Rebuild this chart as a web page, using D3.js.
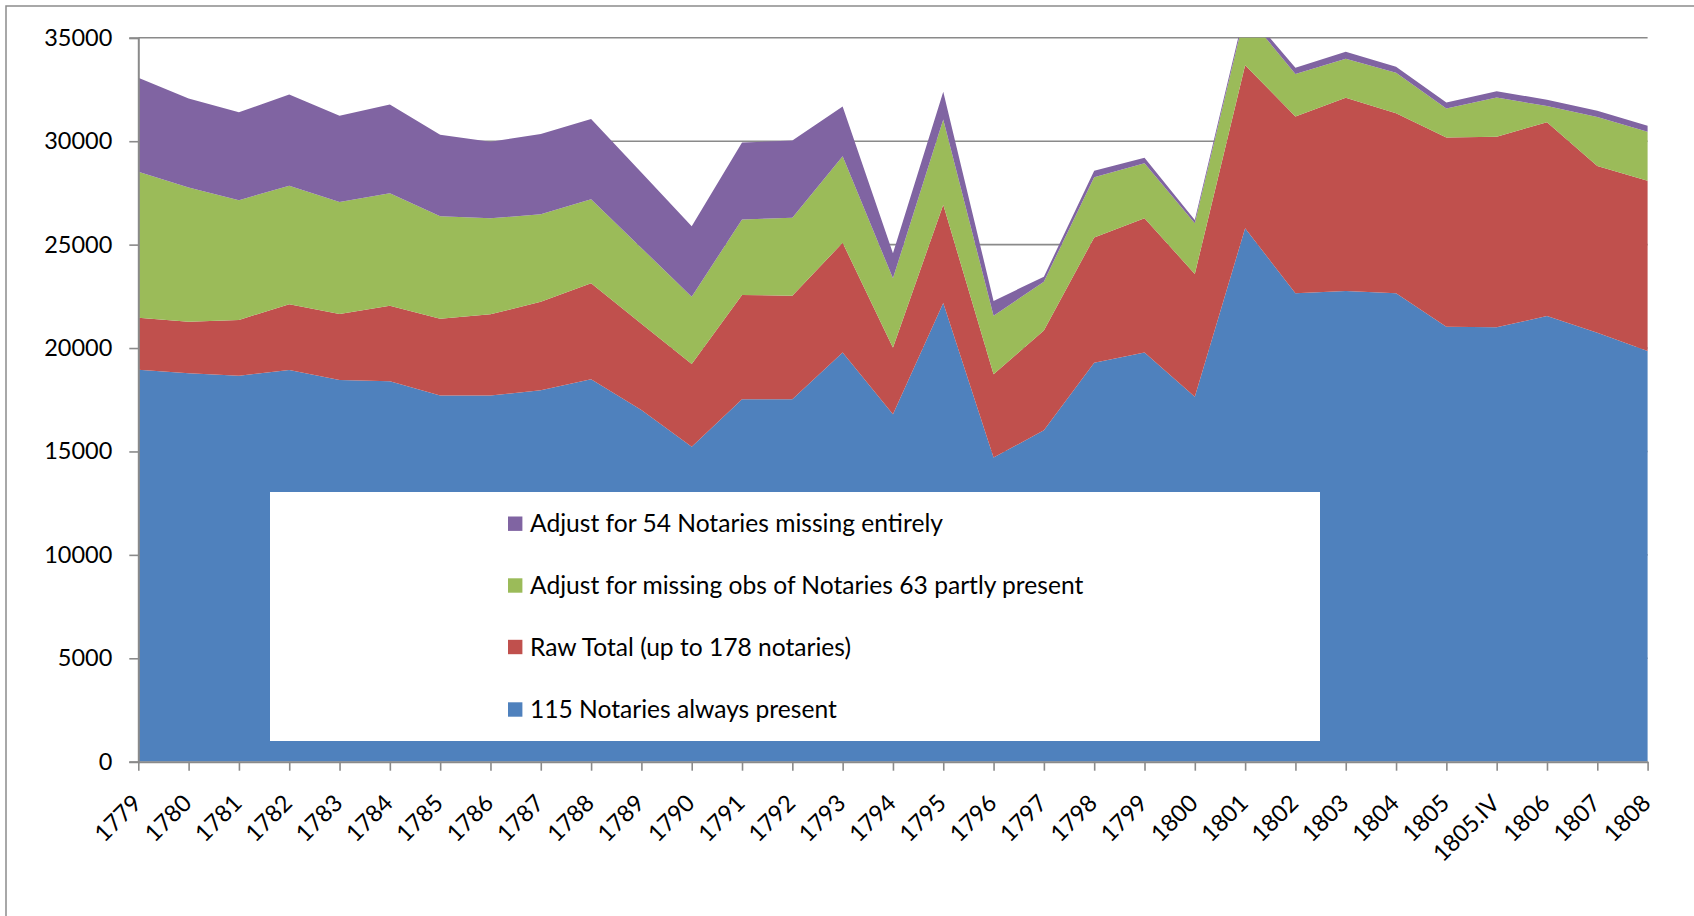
<!DOCTYPE html>
<html>
<head>
<meta charset="utf-8">
<script src="https://cdn.jsdelivr.net/npm/d3@7"></script>
<style>
  body { margin: 0; background: #ffffff; }
  svg text { font-family: Lato, "Open Sans", sans-serif; fill: #000; }
</style>
</head>
<body>
<svg id="chart" width="1694" height="916"></svg>
<script>
// ---- data (stacked increments) ----
const categories = ["1779","1780","1781","1782","1783","1784","1785","1786","1787","1788",
  "1789","1790","1791","1792","1793","1794","1795","1796","1797","1798","1799","1800",
  "1801","1802","1803","1804","1805","1805.IV","1806","1807","1808"];

const alwaysPresent = [18950,18780,18660,18940,18450,18390,17700,17700,17960,18490,
  17000,15230,17530,17530,19790,16800,22180,14710,16020,19290,19790,17650,
  25790,22650,22760,22650,21030,21000,21550,20740,19860];

const rawTotal = [2520,2490,2700,3180,3200,3660,3720,3930,4280,4640,
  4180,4000,5030,5000,5300,3220,4750,4020,4830,6060,6490,5930,
  7880,8550,9340,8700,9150,9220,9370,8060,8230];

const partlyPresentAdj = [7055,6490,5790,5730,5410,5430,4950,4640,4230,4060,
  3660,3250,3660,3770,4180,3350,4120,2830,2360,2910,2650,2450,
  2530,2050,1890,1960,1400,1890,780,2370,2370];

const missingEntirelyAdj = [4545,4300,4250,4410,4170,4300,3940,3710,3880,3890,
  3650,3410,3720,3730,2410,1210,1340,720,240,310,270,160,
  200,305,340,290,290,300,310,300,290];

const seriesNames = ["115 Notaries always present", "Raw Total (up to 178 notaries)",
  "Adjust for missing obs of Notaries 63 partly present", "Adjust for 54 Notaries missing entirely"];
const seriesColors = ["#4F81BD", "#C0504D", "#9BBB59", "#8064A2"];
const yTickValues = [0, 5000, 10000, 15000, 20000, 25000, 30000, 35000];

// ---- layout ----
const W = 1694, H = 916;
const plot = { left: 138.3, right: 1647.6, top: 37.8, bottom: 761.7 };
const FONT = 23.5;
const LEGEND_FONT = 24.6;
const gridColor = "#8a8a8a";

const svg = d3.select("#chart");

// outer chart border (extends past the right/bottom edge)
svg.append("rect")
  .attr("x", 6).attr("y", 6).attr("width", W + 20).attr("height", H + 20)
  .attr("fill", "#fff").attr("stroke", "#8c8c8c").attr("stroke-width", 1.5);

const x = d3.scalePoint().domain(categories).range([plot.left, plot.right]);
const y = d3.scaleLinear().domain([0, 35000]).range([plot.bottom, plot.top]);

// gridlines
svg.append("g").selectAll("line").data(yTickValues.filter(v => v > 0)).join("line")
  .attr("x1", plot.left).attr("x2", plot.right)
  .attr("y1", d => y(d)).attr("y2", d => y(d))
  .attr("stroke", gridColor).attr("stroke-width", 1.6);

// stacked data
const keys = ["a", "b", "c", "d"];
const rows = categories.map((c, i) => ({
  cat: c, a: alwaysPresent[i], b: rawTotal[i], c: partlyPresentAdj[i], d: missingEntirelyAdj[i]
}));
const stacked = d3.stack().keys(keys)(rows);

svg.append("defs").append("clipPath").attr("id", "plotClip")
  .append("rect").attr("x", plot.left).attr("y", plot.top)
  .attr("width", plot.right - plot.left + 1).attr("height", plot.bottom - plot.top);

const area = d3.area()
  .x(d => x(d.data.cat))
  .y0(d => y(d[0]))
  .y1(d => y(d[1]));

svg.append("g").attr("clip-path", "url(#plotClip)")
  .selectAll("path").data(stacked).join("path")
  .attr("d", area)
  .attr("fill", (d, i) => seriesColors[i]);

// y axis
const yAxis = svg.append("g")
  .attr("transform", `translate(${plot.left},0)`)
  .call(d3.axisLeft(y).tickValues(yTickValues).tickFormat(d3.format("d")).tickSize(9).tickPadding(17));
yAxis.select(".domain").attr("stroke", gridColor).attr("stroke-width", 2);
yAxis.selectAll(".tick line").attr("stroke", gridColor).attr("stroke-width", 1.6);
yAxis.selectAll(".tick text").attr("font-size", FONT).attr("font-family", "Lato, sans-serif").attr("fill", "#000");

// x axis
const xAxis = svg.append("g")
  .attr("transform", `translate(0,${plot.bottom})`)
  .call(d3.axisBottom(x).tickSize(9).tickSizeOuter(0));
xAxis.select(".domain").attr("stroke", gridColor).attr("stroke-width", 2);
xAxis.selectAll(".tick line").attr("stroke", gridColor).attr("stroke-width", 1.6);
xAxis.selectAll(".tick text")
  .attr("font-size", FONT).attr("font-family", "Lato, sans-serif").attr("fill", "#000")
  .attr("text-anchor", "end")
  .attr("y", 0).attr("dy", 0)
  .attr("transform", "translate(4,43) rotate(-45)");

// legend
const legend = svg.append("g");
legend.append("rect")
  .attr("x", 270).attr("y", 492).attr("width", 1050).attr("height", 249)
  .attr("fill", "#ffffff");
const legendOrder = [3, 2, 1, 0];
const legendY = [523.7, 585.5, 647, 709.5];
const items = legend.selectAll("g.item").data(legendOrder).join("g").attr("class", "item")
  .attr("transform", (d, i) => `translate(508,${legendY[i]})`);
items.append("rect").attr("x", 0).attr("y", -7.2).attr("width", 14.4).attr("height", 14.4)
  .attr("fill", d => seriesColors[d]);
items.append("text").attr("x", 22).attr("y", 0).attr("dy", "0.35em")
  .attr("font-size", LEGEND_FONT)
  .text(d => seriesNames[d]);
</script>
</body>
</html>
